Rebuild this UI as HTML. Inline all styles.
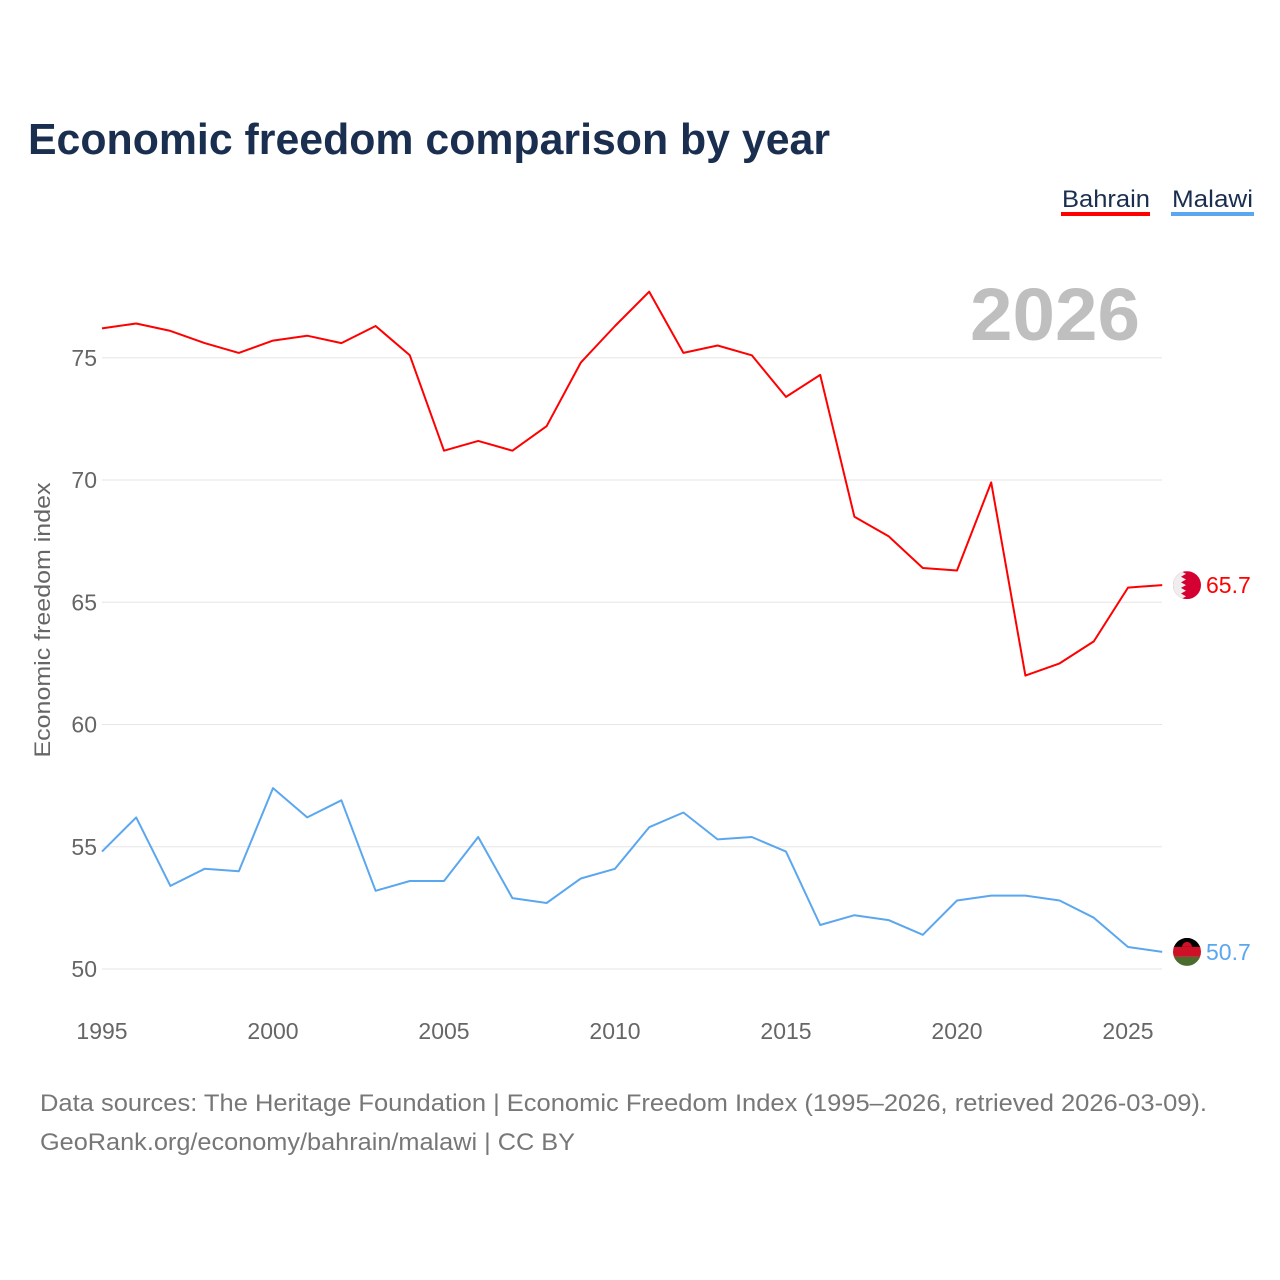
<!DOCTYPE html>
<html><head><meta charset="utf-8"><style>
html,body{margin:0;padding:0;background:#fff;}
svg{display:block;font-family:"Liberation Sans",sans-serif;}
</style></head><body>
<svg id="chart" width="1280" height="1280" viewBox="0 0 1280 1280">
<text x="28" y="154" font-size="44" font-weight="bold" fill="#1a2e4f" textLength="802" lengthAdjust="spacingAndGlyphs">Economic freedom comparison by year</text>
<g>
<g><text x="1062" y="207" font-size="24" fill="#1a2e4f" textLength="88" lengthAdjust="spacingAndGlyphs">Bahrain</text><rect x="1061" y="212" width="89" height="4" fill="#ff0000"/></g>
<g><text x="1172" y="207" font-size="24" fill="#1a2e4f" textLength="81" lengthAdjust="spacingAndGlyphs">Malawi</text><rect x="1171" y="212" width="83" height="4" fill="#5ba7ef"/></g>
</g>
<text x="1140" y="340" font-size="74" font-weight="bold" fill="#bfbfbf" text-anchor="end" textLength="170" lengthAdjust="spacingAndGlyphs">2026</text>
<g id="grid"></g><g id="xt"></g><g id="lines"></g>
<text transform="translate(50,620) rotate(-90)" font-size="22" fill="#666" text-anchor="middle" textLength="275" lengthAdjust="spacingAndGlyphs">Economic freedom index</text>
<text x="40" y="1111" font-size="24" fill="#777" textLength="1167" lengthAdjust="spacingAndGlyphs">Data sources: The Heritage Foundation | Economic Freedom Index (1995–2026, retrieved 2026-03-09).</text>
<text x="40" y="1150" font-size="24" fill="#777" textLength="535" lengthAdjust="spacingAndGlyphs">GeoRank.org/economy/bahrain/malawi | CC BY</text>
<defs>
<clipPath id="c1"><circle cx="0" cy="0" r="14"/></clipPath>
</defs>
</svg>
<script>
const years=[1995,1996,1997,1998,1999,2000,2001,2002,2003,2004,2005,2006,2007,2008,2009,2010,2011,2012,2013,2014,2015,2016,2017,2018,2019,2020,2021,2022,2023,2024,2025,2026];
const bahrain=[76.2,76.4,76.1,75.6,75.2,75.7,75.9,75.6,76.3,75.1,71.2,71.6,71.2,72.2,74.8,76.3,77.7,75.2,75.5,75.1,73.4,74.3,68.5,67.7,66.4,66.3,69.9,62.0,62.5,63.4,65.6,65.7];
const malawi=[54.8,56.2,53.4,54.1,54.0,57.4,56.2,56.9,53.2,53.6,53.6,55.4,52.9,52.7,53.7,54.1,55.8,56.4,55.3,55.4,54.8,51.8,52.2,52.0,51.4,52.8,53.0,53.0,52.8,52.1,50.9,50.7];
const yTicks=[50,55,60,65,70,75];
const xTicks=[1995,2000,2005,2010,2015,2020,2025];
const NS="http://www.w3.org/2000/svg";
const X=v=>102+(v-1995)*34.2;
const Y=v=>969-(v-50)*24.45;
function mk(t,a,p){const e=document.createElementNS(NS,t);for(const k in a)e.setAttribute(k,a[k]);p.appendChild(e);return e;}
const grid=document.getElementById('grid');
yTicks.forEach(v=>{
 const l=mk('line',{x1:102,x2:1162,y1:Y(v),y2:Y(v),stroke:'#e6e6e6','stroke-width':1},grid);
 
 
 const t=mk('text',{x:97,y:Y(v)+8,'font-size':23,fill:'#666','text-anchor':'end'},grid);
 t.textContent=v;
 
 
});
const xt=document.getElementById('xt');
xTicks.forEach(v=>{
 const t=mk('text',{x:X(v),y:1039,'font-size':23,fill:'#666','text-anchor':'middle'},xt);
 t.textContent=v;
 
 
});
const lines=document.getElementById('lines');
function series(vals,color,name){
 const d=vals.map((v,i)=>(i?'L':'M')+X(years[i]).toFixed(1)+','+Y(v).toFixed(1)).join('');
 const p=mk('path',{d:d,fill:'none',stroke:color,'stroke-width':2,'stroke-linejoin':'round'},lines);
 
 
 const last=vals[vals.length-1];
 const lb=mk('text',{x:1206,y:Y(last)+8,'font-size':23,fill:color},lines);
 lb.textContent=last.toFixed(1);
 
 
 return Y(last);
}
const yb=series(bahrain,'#ff0000','bahrain');
const ym=series(malawi,'#5ba7ef','malawi');
const fb=mk('g',{transform:'translate(1187,'+yb+')','clip-path':'url(#c1)'},lines);


mk('rect',{x:-14,y:-14,width:28,height:28,fill:'#d50032'},fb);
let pts='-14,-14 ';for(let i=0;i<5;i++){const y0=-14+i*5.6;pts+=`-6,${y0} -1,${y0+2.8} `;}pts+='-6,14 -14,14';
mk('polygon',{points:pts,fill:'#eee'},fb);
const fm=mk('g',{transform:'translate(1187,'+ym+')','clip-path':'url(#c1)'},lines);


mk('rect',{x:-14,y:-14,width:28,height:10,fill:'#000'},fm);
mk('rect',{x:-14,y:-5,width:28,height:10,fill:'#ce1126'},fm);
mk('rect',{x:-14,y:5,width:28,height:10,fill:'#4a6d2e'},fm);
mk('path',{d:'M-5,-5 A5,5 0 0 1 5,-5 Z',fill:'#ce1126'},fm);
</script>
</body></html>
